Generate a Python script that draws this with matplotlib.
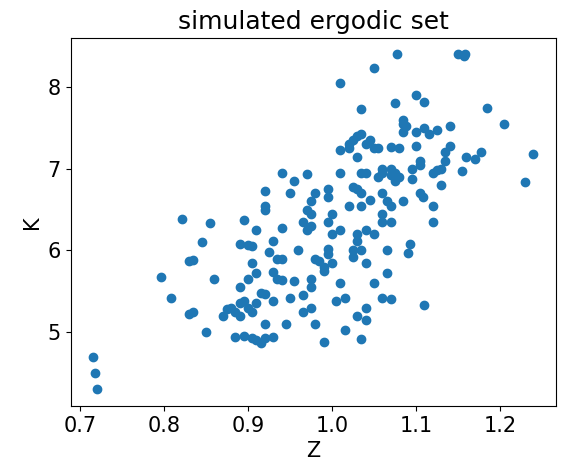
import matplotlib
matplotlib.use("Agg")
import matplotlib.pyplot as plt

pts = [(0.715,4.7),(0.718,4.5),(0.72,4.3),(0.797,5.67),(0.808,5.42),(0.822,6.38),(0.83,5.22),(0.835,5.24),
(0.83,5.87),(0.835,5.88),(0.845,6.1),(0.85,5.0),(0.855,6.33),(0.86,5.65),
(0.88,5.3),(0.885,5.25),(0.89,5.35),(0.89,5.2),(0.895,5.38),(0.9,5.3),(0.905,5.25),(0.91,5.35),(0.895,4.95),(0.905,4.93),(0.91,4.9),(0.915,4.87),(0.92,4.93),(0.93,4.94),(0.93,5.38),(0.945,5.1),(0.92,5.1),(0.89,5.55),(0.9,5.65),(0.905,5.85),(0.91,5.72),(0.915,5.48),(0.92,5.47),(0.89,6.08),(0.9,6.07),(0.905,6.05),(0.895,6.37),(0.91,6.25),(0.92,6.5),(0.92,6.55),(0.92,6.73),(0.93,6.12),(0.925,5.98),(0.93,5.73),(0.935,5.65),(0.94,5.64),(0.935,5.9),(0.94,5.9),(0.94,6.28),(0.94,6.95),(0.95,6.7),(0.955,6.85),(0.955,5.63),(0.95,5.42),(0.96,6.0),(0.965,6.35),(0.965,5.45),(0.965,5.25),(0.97,6.93),(0.97,6.5),(0.975,6.45),(0.975,6.3),(0.97,6.25),(0.975,6.6),(0.975,5.65),(0.975,5.55),(0.975,5.3),(0.98,5.1),(0.98,5.9),(0.98,6.7),(0.99,4.88),(0.985,5.87),(0.99,5.8),(0.99,5.75),(0.995,5.95),(0.995,6.02),(0.995,6.65),(0.995,6.35),(0.995,6.75),(1.0,6.45),(1.0,6.2),(1.0,5.85),(1.005,5.38),(1.01,5.6),(1.01,6.25),(1.01,6.95),(1.01,7.23),(1.01,8.05),(1.015,5.42),(1.015,5.02),(1.02,7.25),(1.02,7.3),(1.025,7.35),(1.025,6.78),(1.02,6.55),(1.025,5.92),(1.025,6.0),(1.03,6.12),(1.03,6.2),(1.03,6.75),(1.03,7.4),(1.03,7.15),(1.03,5.2),(1.035,4.92),(1.035,6.7),(1.035,6.95),(1.035,6.55),(1.035,7.73),(1.035,7.42),(1.035,6.0),(1.04,5.3),(1.04,5.15),(1.04,5.85),(1.04,6.25),(1.04,6.95),(1.04,7.3),(1.045,7.35),(1.045,6.62),(1.05,8.24),(1.05,7.25),(1.05,6.2),(1.05,5.6),(1.055,7.25),(1.055,6.9),(1.06,6.95),(1.06,7.0),(1.06,6.7),(1.06,6.45),(1.06,6.35),(1.06,5.42),(1.065,5.72),(1.065,6.6),(1.065,6.0),(1.07,7.27),(1.07,7.0),(1.07,6.92),(1.07,6.55),(1.07,6.35),(1.07,5.4),(1.075,7.8),(1.075,6.95),(1.075,6.85),(1.078,8.4),(1.08,7.25),(1.08,6.9),(1.085,7.55),(1.085,7.6),(1.085,7.45),(1.088,7.52),(1.085,6.6),(1.09,5.97),(1.093,6.08),(1.095,7.0),(1.095,6.88),(1.1,7.9),(1.1,7.45),(1.1,7.28),(1.105,7.1),(1.105,7.05),(1.105,6.7),(1.108,6.65),(1.11,7.5),(1.11,7.82),(1.11,5.33),(1.115,7.42),(1.12,6.55),(1.12,6.35),(1.12,6.95),(1.125,6.98),(1.125,7.48),(1.13,7.0),(1.13,6.8),(1.135,7.1),(1.135,7.2),(1.14,7.28),(1.14,7.52),(1.15,8.4),(1.157,8.38),(1.158,8.4),(1.155,6.97),(1.16,7.15),(1.17,7.12),(1.178,7.2),(1.185,7.75),(1.205,7.55),(1.23,6.84),(1.24,7.18),(0.87,5.2),(0.875,5.28),(0.885,4.94)]
Z = [p[0] for p in pts]
K = [p[1] for p in pts]

plt.rcParams['font.size'] = 15
fig, ax = plt.subplots(figsize=(5.64, 4.72), dpi=100)
ax.scatter(Z, K, color='#1f77b4')
ax.set_title("simulated ergodic set", fontsize=18)
ax.set_xlabel("Z")
ax.set_ylabel("K")
ax.set_xticks([0.7,0.8,0.9,1.0,1.1,1.2])
ax.set_yticks([5,6,7,8])
fig.subplots_adjust(left=0.125, right=0.985, bottom=0.14, top=0.92)
fig.savefig("out.png")
